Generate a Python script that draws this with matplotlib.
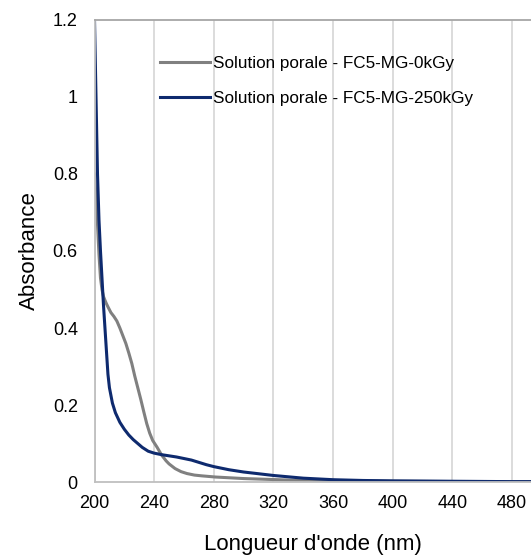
import numpy as np
import matplotlib
matplotlib.use("Agg")
import matplotlib.pyplot as plt

plt.rcParams['font.family'] = ['Liberation Sans', 'DejaVu Sans']

# absorbance spectra
wl_0kGy = [200, 201, 202, 203, 204, 205, 206, 207, 208, 209, 211, 213, 215, 217, 219,
           221, 223, 225, 227, 229, 231, 233, 235, 237, 239, 242, 245, 248, 250, 254,
           258, 262, 267, 272, 281, 300, 331, 360, 400, 450, 500]
abs_0kGy = [0.80, 0.74, 0.67, 0.59, 0.53, 0.50, 0.482, 0.472, 0.463, 0.455, 0.44, 0.43, 0.418, 0.40, 0.38,
            0.36, 0.335, 0.308, 0.275, 0.245, 0.215, 0.183, 0.152, 0.127, 0.108, 0.09, 0.07, 0.055, 0.047, 0.035,
            0.027, 0.022, 0.018, 0.016, 0.013, 0.009, 0.005, 0.004, 0.002, 0.001, 0.001]

wl_250kGy = [200, 201, 202, 203, 204, 205, 206, 207, 208, 209, 210, 212, 214, 217, 220,
             223, 226, 229, 232, 236, 240, 245, 250, 255, 260, 265, 270, 275, 280, 290,
             300, 320, 340, 360, 380, 400, 440, 480, 500]
abs_250kGy = [1.20, 1.00, 0.80, 0.68, 0.60, 0.53, 0.46, 0.40, 0.34, 0.28, 0.245, 0.205, 0.18, 0.155, 0.137,
              0.122, 0.11, 0.10, 0.09, 0.08, 0.075, 0.071, 0.068, 0.065, 0.061, 0.057, 0.051, 0.045, 0.040, 0.032,
              0.026, 0.017, 0.010, 0.006, 0.004, 0.003, 0.002, 0.001, 0.001]

labels = ['Solution porale - FC5-MG-0kGy', 'Solution porale - FC5-MG-250kGy']
xticks = [200, 240, 280, 320, 360, 400, 440, 480]
yticks = [0, 0.2, 0.4, 0.6, 0.8, 1, 1.2]
yticklabels = ['0', '0.2', '0.4', '0.6', '0.8', '1', '1.2']

fig = plt.figure(figsize=(5.31, 5.55), dpi=100)
ax = fig.add_axes([0.178, 0.1315, 0.822, 0.8325])

ax.plot(wl_0kGy, abs_0kGy, color='#808080', lw=2.2, label=labels[0])
ax.plot(wl_250kGy, abs_250kGy, color='#0e2a6e', lw=2.2, label=labels[1])

ax.set_xlim(200, 492.7)
ax.set_ylim(0, 1.2)
ax.set_xticks(xticks)
ax.set_yticks(yticks)
ax.set_yticklabels(yticklabels)
ax.grid(axis='x', color='#d9d9d9', lw=1.3)
ax.set_axisbelow(True)
ax.tick_params(axis='both', length=0, labelsize=13, colors='#000000')
ax.tick_params(axis='x', pad=9)
ax.tick_params(axis='y', pad=12)

for s in ['left', 'bottom']:
    ax.spines[s].set_color('#bfbfbf')
    ax.spines[s].set_linewidth(1.3)
ax.spines['top'].set_color('#a6a6a6')
ax.spines['top'].set_linewidth(1.3)
ax.spines['right'].set_visible(False)

ax.set_xlabel("Longueur d'onde (nm)", fontsize=16, labelpad=16)
ax.set_ylabel('Absorbance', fontsize=16, labelpad=9)

ax.legend(loc='upper left', bbox_to_anchor=(160 / 531, 1 - 56 / 555),
          bbox_transform=fig.transFigure, frameon=False, fontsize=12.3,
          handlelength=2.9, handletextpad=0.2, labelspacing=1.18,
          borderpad=0, borderaxespad=0)

fig.savefig('out.png', dpi=100)
